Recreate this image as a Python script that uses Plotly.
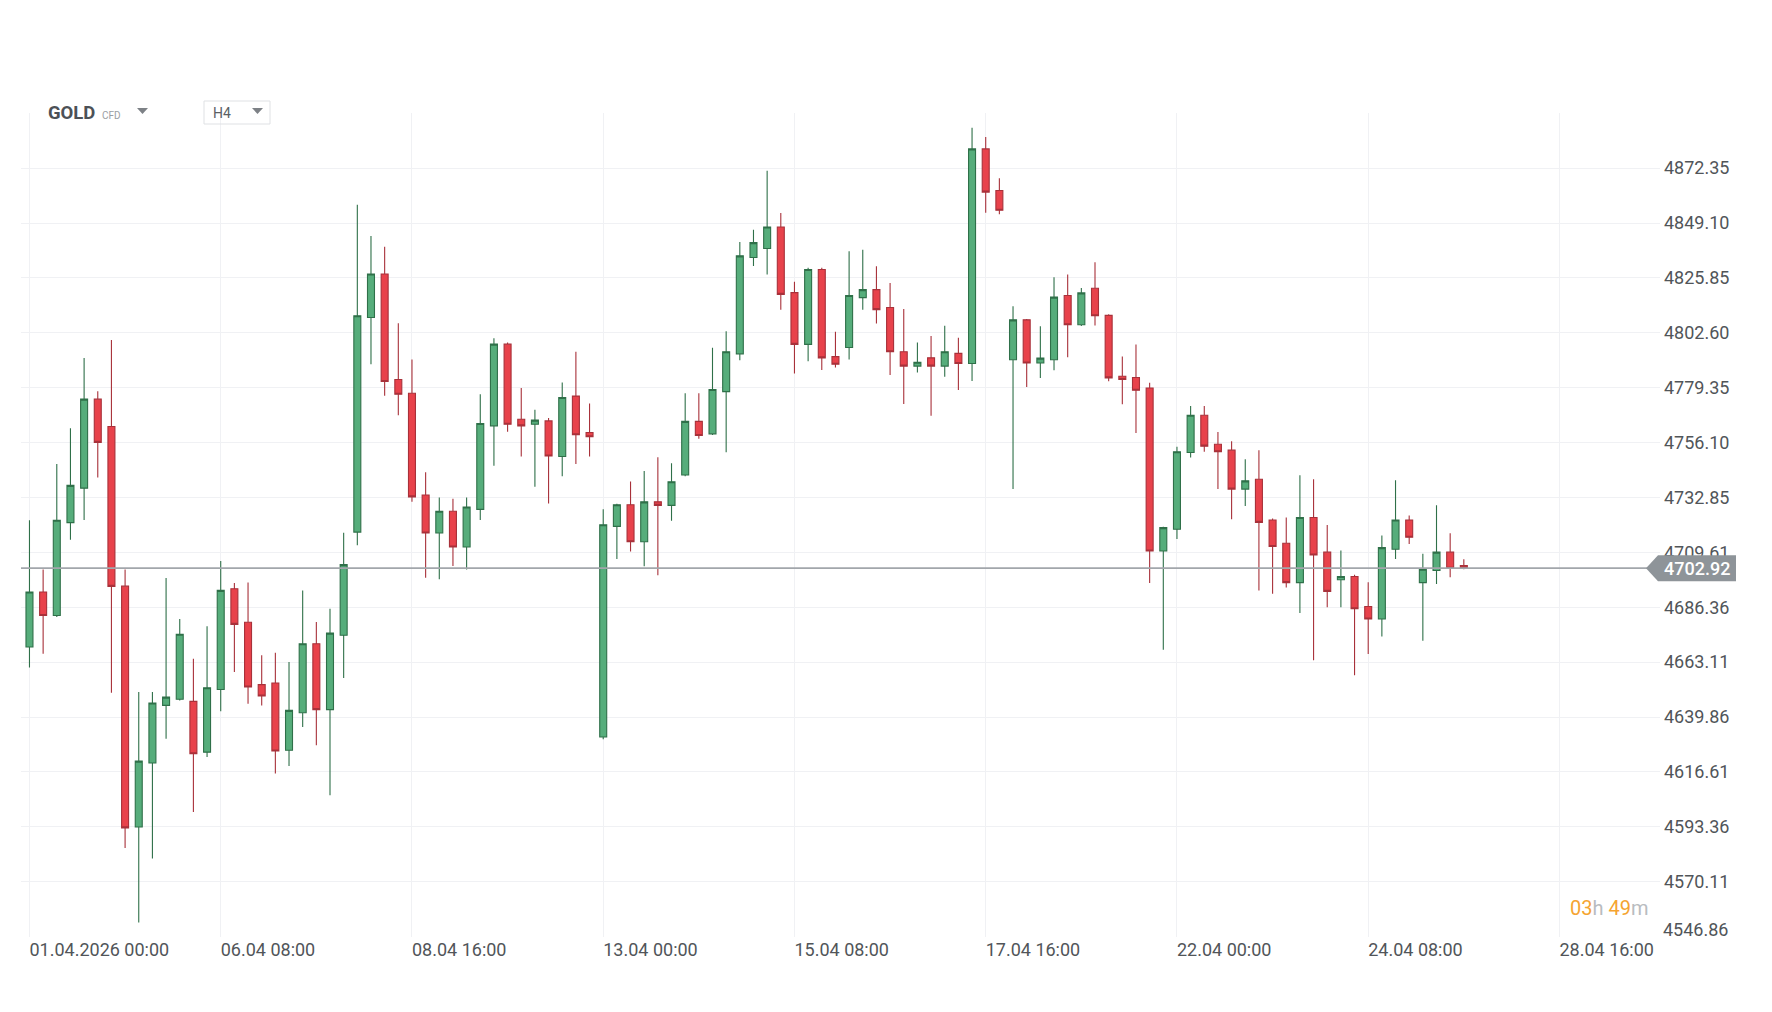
import plotly.graph_objects as go

# ---------------- data ----------------
bar_index = list(range(106))
opens = [4669.5, 4692.8, 4682.9, 4722.2, 4736.8, 4774.5, 4762.9, 4695.3, 4593.3, 4620.4,
         4644.8, 4647.4, 4646.5, 4625.0, 4651.5, 4694.2, 4680.0, 4653.6, 4654.3, 4625.8,
         4641.7, 4670.9, 4643.0, 4674.5, 4718.2, 4809.1, 4827.5, 4782.8, 4777.0, 4733.9,
         4717.8, 4727.0, 4711.9, 4727.8, 4763.2, 4797.8, 4766.0, 4763.9, 4765.3, 4750.2,
         4775.8, 4760.4, 4631.4, 4720.6, 4729.8, 4714.1, 4731.0, 4729.5, 4742.4, 4765.1,
         4759.8, 4777.7, 4793.7, 4834.5, 4838.3, 4847.4, 4819.6, 4797.7, 4829.4, 4792.5,
         4796.4, 4817.5, 4820.9, 4813.3, 4794.6, 4788.5, 4792.0, 4788.5, 4793.9, 4789.6,
         4880.5, 4862.9, 4791.2, 4808.1, 4789.8, 4791.2, 4818.4, 4806.0, 4821.5, 4810.0,
         4784.2, 4783.7, 4779.2, 4710.2, 4719.4, 4751.9, 4767.7, 4755.4, 4752.9, 4736.4,
         4740.6, 4723.3, 4713.5, 4696.8, 4724.4, 4709.7, 4698.0, 4699.4, 4686.7, 4681.4,
         4710.9, 4723.3, 4696.8, 4701.9, 4709.7, 4704.0]
highs = [4723.2, 4702.3, 4747.0, 4762.2, 4791.9, 4777.8, 4799.6, 4702.3, 4650.5, 4650.5,
         4698.7, 4681.4, 4664.6, 4678.3, 4705.9, 4696.6, 4696.8, 4666.0, 4667.1, 4663.2,
         4693.5, 4680.1, 4685.7, 4717.9, 4856.8, 4843.6, 4839.0, 4806.7, 4791.3, 4743.5,
         4732.9, 4732.3, 4732.8, 4776.6, 4800.3, 4798.5, 4779.2, 4770.0, 4766.5, 4781.6,
         4794.6, 4772.7, 4727.9, 4730.2, 4739.6, 4744.1, 4749.9, 4747.4, 4777.0, 4777.0,
         4796.3, 4803.3, 4841.1, 4846.3, 4871.2, 4853.3, 4824.2, 4830.2, 4830.2, 4803.0,
         4837.1, 4837.8, 4830.8, 4823.7, 4812.7, 4798.5, 4801.2, 4805.6, 4800.5, 4889.4,
         4885.5, 4868.1, 4813.9, 4808.5, 4805.4, 4826.1, 4827.3, 4821.6, 4832.5, 4810.5,
         4792.6, 4797.7, 4781.5, 4720.5, 4754.3, 4771.6, 4771.6, 4760.6, 4756.7, 4749.0,
         4752.9, 4724.0, 4724.4, 4742.3, 4740.6, 4721.2, 4710.4, 4700.1, 4697.0, 4716.7,
         4740.2, 4725.2, 4709.0, 4729.6, 4717.7, 4706.7]
lows = [4660.8, 4666.7, 4682.2, 4715.0, 4723.3, 4741.3, 4650.2, 4584.4, 4552.8, 4579.9,
        4630.7, 4646.9, 4599.6, 4622.9, 4642.3, 4658.9, 4645.5, 4644.8, 4615.9, 4619.1,
        4635.6, 4627.9, 4606.7, 4656.4, 4712.6, 4789.3, 4775.9, 4767.7, 4731.0, 4698.9,
        4698.2, 4703.8, 4702.3, 4723.3, 4746.3, 4760.7, 4750.2, 4737.4, 4730.3, 4741.8,
        4747.0, 4750.2, 4630.5, 4706.8, 4710.0, 4703.7, 4699.9, 4723.0, 4741.8, 4757.7,
        4759.3, 4752.0, 4791.0, 4830.9, 4827.3, 4812.4, 4785.4, 4790.6, 4786.8, 4787.9,
        4791.3, 4812.4, 4806.5, 4784.7, 4772.4, 4785.8, 4767.5, 4784.0, 4778.4, 4782.2,
        4853.5, 4852.8, 4736.4, 4779.7, 4783.5, 4786.7, 4792.3, 4805.5, 4805.7, 4782.1,
        4772.3, 4760.2, 4696.6, 4668.4, 4715.3, 4749.8, 4752.2, 4736.4, 4723.6, 4729.2,
        4693.5, 4692.1, 4694.7, 4683.9, 4663.9, 4686.4, 4686.4, 4657.6, 4666.6, 4674.0,
        4706.8, 4713.2, 4672.2, 4696.2, 4699.1, 4702.5]
closes = [4692.8, 4682.9, 4723.2, 4738.0, 4774.5, 4756.2, 4695.2, 4592.9, 4621.2, 4645.8,
          4648.3, 4674.9, 4624.3, 4652.3, 4693.5, 4679.1, 4652.6, 4648.8, 4625.5, 4642.7,
          4670.9, 4643.0, 4675.4, 4704.4, 4809.8, 4827.5, 4782.0, 4776.6, 4733.1, 4717.8,
          4727.0, 4711.9, 4728.8, 4764.2, 4797.8, 4763.9, 4763.2, 4765.6, 4750.4, 4775.2,
          4759.4, 4758.6, 4721.3, 4729.8, 4714.1, 4731.0, 4729.5, 4739.5, 4765.1, 4759.1,
          4778.6, 4794.6, 4835.2, 4840.8, 4847.4, 4818.9, 4797.7, 4829.4, 4792.0, 4789.3,
          4818.4, 4820.9, 4812.4, 4794.6, 4788.5, 4790.1, 4788.5, 4794.6, 4789.6, 4880.5,
          4862.2, 4854.5, 4808.1, 4789.8, 4791.9, 4817.7, 4806.0, 4819.5, 4809.8, 4783.5,
          4782.8, 4778.3, 4710.2, 4720.1, 4752.2, 4767.7, 4754.6, 4752.2, 4736.4, 4739.9,
          4722.3, 4712.1, 4696.8, 4724.4, 4708.5, 4693.1, 4699.4, 4685.7, 4681.4, 4711.6,
          4723.3, 4716.0, 4702.5, 4709.7, 4702.9, 4702.92]

x_tick_index = [0, 14, 28, 42, 56, 70, 84, 98, 112]
x_tick_labels = ["01.04.2026 00:00", "06.04 08:00", "08.04 16:00", "13.04 00:00",
                 "15.04 08:00", "17.04 16:00", "22.04 00:00", "24.04 08:00", "28.04 16:00"]
y_tick_values = [4546.86, 4570.11, 4593.36, 4616.61, 4639.86, 4663.11, 4686.36, 4709.61,
                 4732.85, 4756.10, 4779.35, 4802.60, 4825.85, 4849.10, 4872.35, 4895.60]
y_tick_labels = ["4546.86", "4570.11", "4593.36", "4616.61", "4639.86", "4663.11", "4686.36",
                 "4709.61", "4732.85", "4756.10", "4779.35", "4802.60", "4825.85", "4849.10",
                 "4872.35", ""]
current_price = 4702.92
symbol_name = "GOLD"
symbol_type = "CFD"
timeframe = "H4"
countdown_h = "03"
countdown_m = "49"

# ---------------- style ----------------
W, H = 1772, 1012
ML, MR, MT, MB = 21, 112, 113, 75
PW, PH = W - ML - MR, H - MT - MB
GREEN_FILL, GREEN_LINE = "#56ad7b", "#2f7049"
RED_FILL, RED_LINE = "#e8424b", "#a8313a"
GRID = "#f0f1f4"
TXT = "#515559"
FONT = "Roboto"


def px_x(px):
    return (px - ML) / PW


def px_y(py):
    return (H - MB - py) / PH


# the lowest tick label sits just above the plot bottom (as in the reference);
# it is drawn as an annotation at that tick value, the axis shows the others
axis_tick_labels = [""] + y_tick_labels[1:]

fig = go.Figure(
    go.Candlestick(
        x=bar_index, open=opens, high=highs, low=lows, close=closes,
        increasing=dict(line=dict(color=GREEN_LINE, width=1.1), fillcolor=GREEN_FILL),
        decreasing=dict(line=dict(color=RED_LINE, width=1.1), fillcolor=RED_FILL),
        whiskerwidth=0, hoverinfo="none", showlegend=False,
    )
)

fig.update_layout(
    width=W, height=H, autosize=False,
    margin=dict(l=ML, r=MR, t=MT, b=MB, pad=0),
    paper_bgcolor="white", plot_bgcolor="white",
    boxgap=0.27,
    font=dict(family=FONT, size=18, color=TXT),
    xaxis=dict(
        range=[-0.62, 119.36], rangeslider=dict(visible=False),
        tickmode="array", tickvals=x_tick_index, ticktext=x_tick_labels,
        ticklabelposition="outside right",
        showgrid=True, gridcolor=GRID, gridwidth=1,
        zeroline=False, showline=False, ticks="",
        tickfont=dict(family=FONT, size=18, color=TXT),
    ),
    yaxis=dict(
        range=[4546.7, 4895.7], side="right",
        tickmode="array", tickvals=y_tick_values, ticktext=axis_tick_labels,
        showgrid=True, gridcolor=GRID, gridwidth=1,
        zeroline=False, showline=False, ticks="",
        ticklabelstandoff=3,
        tickfont=dict(family=FONT, size=18, color=TXT),
    ),
)

fig.add_annotation(x=1, xref="paper", y=y_tick_values[0], yref="y", xanchor="left",
                   yanchor="middle", xshift=1, yshift=7, showarrow=False,
                   text=y_tick_labels[0], font=dict(family=FONT, size=18, color=TXT))

# current price line + label
fig.add_shape(type="line", xref="paper", yref="y", x0=0, x1=1,
              y0=current_price, y1=current_price,
              line=dict(color="#a2a6ab", width=1.6), layer="above")
fig.add_shape(type="path", xref="paper", yref="y", xsizemode="pixel", ysizemode="pixel",
              xanchor=1, yanchor=current_price,
              path="M -14 0 L -2 13 L 76 13 L 76 -13 L -2 -13 Z",
              fillcolor="#8e9499", line=dict(width=0), layer="above")
fig.add_annotation(x=1, xref="paper", y=current_price, yref="y", xanchor="left",
                   yanchor="middle", xshift=2, showarrow=False,
                   text=f"{current_price:.2f}",
                   font=dict(family=FONT, size=18, color="white", weight=500))

# countdown
fig.add_annotation(x=1, xref="paper", y=px_y(908), yref="paper", xanchor="right",
                   yanchor="middle", xshift=-9, showarrow=False,
                   text=(f"<span style='color:#f5a431'>{countdown_h}</span>h "
                         f"<span style='color:#f5a431'>{countdown_m}</span>m"),
                   font=dict(family=FONT, size=20, color="#b9bcc0"))

# header
fig.add_annotation(x=px_x(46), xref="paper", y=px_y(113), yref="paper", xanchor="left",
                   yanchor="middle", showarrow=False, text=f"<b>{symbol_name}</b>",
                   font=dict(family=FONT, size=18.5, color="#4c5157"))
fig.add_annotation(x=px_x(100), xref="paper", y=px_y(115), yref="paper", xanchor="left",
                   yanchor="middle", showarrow=False, text=symbol_type,
                   font=dict(family=FONT, size=10, color="#9a9ea3"))
for tx in (137, 252):
    fig.add_shape(type="path", xref="paper", yref="paper", xsizemode="pixel",
                  ysizemode="pixel", xanchor=px_x(tx), yanchor=px_y(111),
                  path="M 0 3 L 11 3 L 5.5 -3 Z", fillcolor="#7d8186",
                  line=dict(width=0), layer="above")
fig.add_shape(type="rect", xref="paper", yref="paper",
              x0=px_x(204), x1=px_x(270), y0=px_y(124), y1=px_y(101),
              line=dict(color="#dfe1e4", width=1), fillcolor="rgba(0,0,0,0)", layer="above")
fig.add_annotation(x=px_x(211), xref="paper", y=px_y(113), yref="paper", xanchor="left",
                   yanchor="middle", showarrow=False, text=timeframe,
                   font=dict(family=FONT, size=14, color="#5b5f64"))

fig.write_html("out.html", config={"displayModeBar": False},
               post_script="document.body.style.margin='0';document.body.style.overflow='hidden';")
